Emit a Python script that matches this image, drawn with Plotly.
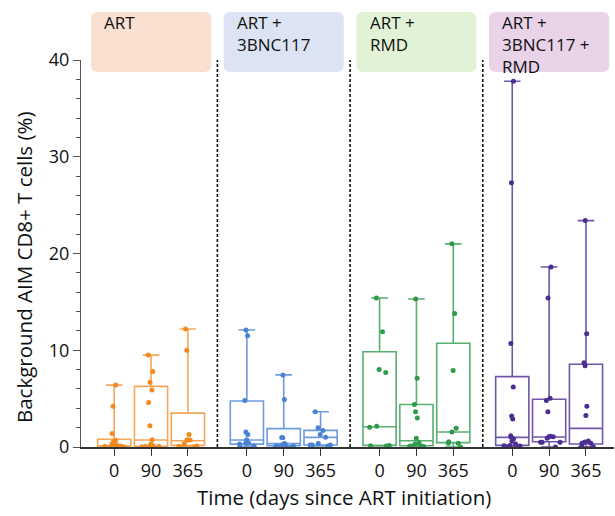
import plotly.graph_objects as go

# ---------------- data ----------------
groups = ["ART", "ART + 3BNC117", "ART + RMD", "ART + 3BNC117 + RMD"]
header_lines = [["ART"], ["ART +", "3BNC117"], ["ART +", "RMD"], ["ART +", "3BNC117 +", "RMD"]]
timepoints = ["0", "90", "365"]

# individual participant values (% AIM+ CD8+ T cells), per group and timepoint
ART_pts = [
    [6.4, 4.2, 1.4, 0.7, 0.55, 0.3, 0.28, 0.25, 0.2, 0.12, 0.1, 0.08, 0.05, 0.03, 0.0, 0.0],
    [9.5, 7.8, 6.7, 5.9, 4.6, 2.2, 0.75, 0.3, 0.1, 0.08, 0.05, 0.05, 0.02, 0.0],
    [12.2, 10.0, 1.3, 0.75, 0.72, 0.7, 0.3, 0.1, 0.08, 0.0],
]
BNC_pts = [
    [12.1, 11.5, 4.8, 1.55, 1.3, 0.75, 0.4, 0.38, 0.3, 0.1, 0.07, 0.05],
    [7.45, 4.9, 0.97, 0.95, 0.35, 0.3, 0.2, 0.15, 0.1, 0.07, 0.05, 0.0],
    [3.65, 2.0, 1.7, 1.3, 1.0, 0.35, 0.2, 0.2, 0.2, 0.1],
]
RMD_pts = [
    [15.4, 11.9, 8.0, 7.7, 2.15, 2.05, 0.15, 0.12, 0.1],
    [15.3, 7.1, 4.4, 3.65, 3.0, 0.9, 0.45, 0.3, 0.1, 0.1, 0.08, 0.05],
    [21.0, 13.8, 7.9, 1.95, 1.55, 0.55, 0.4, 0.38, 0.0],
]
QUAD_pts = [
    [37.8, 27.3, 10.7, 6.2, 3.2, 2.9, 1.15, 1.0, 0.85, 0.6, 0.3, 0.15, 0.12, 0.1, 0.05, 0.0],
    [18.6, 15.4, 5.05, 4.8, 3.65, 1.1, 1.05, 1.05, 0.9, 0.5, 0.5, 0.5, 0.0],
    [23.4, 11.7, 8.7, 8.4, 4.2, 3.25, 0.62, 0.52, 0.4, 0.38, 0.15, 0.03],
]
points = [ART_pts, BNC_pts, RMD_pts, QUAD_pts]

# box statistics as drawn (min-to-max whiskers)
q1_vals = [[0.02, 0.07, 0.17], [0.3, 0.13, 0.2], [0.17, 0.13, 0.45], [0.17, 0.55, 0.31]]
median_vals = [[0.12, 0.72, 0.65], [0.72, 0.35, 1.0], [2.1, 0.65, 1.55], [1.0, 1.03, 1.93]]
q3_vals = [[0.8, 6.27, 3.5], [4.75, 1.9, 1.72], [9.85, 4.4, 10.72], [7.27, 4.93, 8.55]]
min_vals = [[0.0, 0.0, 0.0], [0.05, 0.0, 0.1], [0.1, 0.05, 0.0], [0.0, 0.0, 0.03]]
max_vals = [[6.4, 9.5, 12.2], [12.1, 7.45, 3.65], [15.4, 15.3, 21.0], [37.8, 18.6, 23.4]]

# ---------------- styling ----------------
colors = ["#f28a20", "#4a82d4", "#2e9b4c", "#4d2d92"]
box_line = ["rgba(242,138,32,0.75)", "rgba(74,130,212,0.8)", "rgba(46,155,76,0.8)", "rgba(77,45,146,0.8)"]
header_fill = ["#f9e0d0", "#dce3f3", "#e1f2d6", "#e8d3e9"]
FONT = "Open Sans"
GROUP_STEP = 3.6

fig = go.Figure()
tickvals, ticktext = [], []
for g in range(len(groups)):
    for i, tp in enumerate(timepoints):
        pos = g * GROUP_STEP + i
        tickvals.append(pos)
        ticktext.append(tp)
        fig.add_trace(go.Box(
            x=[pos], q1=[q1_vals[g][i]], median=[median_vals[g][i]], q3=[q3_vals[g][i]],
            lowerfence=[min_vals[g][i]], upperfence=[max_vals[g][i]],
            boxpoints=False, width=0.9, whiskerwidth=0.5,
            line=dict(color=box_line[g], width=1.6), fillcolor="rgba(0,0,0,0)",
            showlegend=False, hoverinfo="skip"))
        fig.add_trace(go.Box(
            x=[pos] * len(points[g][i]), y=points[g][i],
            boxpoints="all", jitter=0.85, pointpos=0, width=0.9,
            line=dict(color="rgba(0,0,0,0)", width=0), fillcolor="rgba(0,0,0,0)",
            marker=dict(color=colors[g], size=5),
            showlegend=False))

shapes = []
annotations = []
# dashed separators between groups
for g in range(1, len(groups)):
    xsep = (g - 1) * GROUP_STEP + 2 + (GROUP_STEP - 2) / 2
    shapes.append(dict(type="line", xref="x", yref="paper", x0=xsep, x1=xsep, y0=0, y1=1,
                       line=dict(color="#111", width=1.6, dash="3px,2px")))

# header boxes with rounded corners
rx, ry = 0.19, 0.018
ytop, ybot = 1.124, 0.969
for g in range(len(groups)):
    c = g * GROUP_STEP + 1
    x0, x1 = c - 1.63, c + 1.63
    path = (f"M {x0+rx},{ybot} L {x1-rx},{ybot} Q {x1},{ybot} {x1},{ybot+ry} "
            f"L {x1},{ytop-ry} Q {x1},{ytop} {x1-rx},{ytop} L {x0+rx},{ytop} "
            f"Q {x0},{ytop} {x0},{ytop-ry} L {x0},{ybot+ry} Q {x0},{ybot} {x0+rx},{ybot} Z")
    shapes.append(dict(type="path", xref="x", yref="paper", path=path,
                       fillcolor=header_fill[g], line=dict(width=0), layer="below"))
    annotations.append(dict(text="<br>".join(header_lines[g]), xref="x", yref="paper",
                            x=x0 + 0.31, y=1.131, xanchor="left", yanchor="top", align="left",
                            showarrow=False, font=dict(family=FONT, size=17, color="#111")))

# axis titles
annotations.append(dict(text="Background AIM CD8+ T cells (%)", xref="paper", yref="paper",
                        x=-0.107, y=0.465, textangle=-90, showarrow=False,
                        xanchor="center", yanchor="middle",
                        font=dict(family=FONT, size=20.5, color="#111")))
annotations.append(dict(text="Time (days since ART initiation)", xref="paper", yref="paper",
                        x=0.493, y=-0.129, showarrow=False, xanchor="center", yanchor="middle",
                        font=dict(family=FONT, size=20.5, color="#111")))

fig.update_layout(
    width=615, height=516,
    margin=dict(l=81, r=1, t=60, b=69),
    paper_bgcolor="white", plot_bgcolor="white",
    boxmode="overlay",
    shapes=shapes, annotations=annotations,
    font=dict(family=FONT, color="#111"),
    xaxis=dict(range=[-0.9, 13.56], tickvals=tickvals, ticktext=ticktext,
               showline=True, linecolor="#333", linewidth=1.5, ticks="outside",
               ticklen=7, tickcolor="#333", tickwidth=1.2, showgrid=False, zeroline=False,
               tickfont=dict(family=FONT, size=18, color="#111")),
    yaxis=dict(range=[0, 40], tickvals=[0, 10, 20, 30, 40],
               showline=True, linecolor="#555", linewidth=1.2, ticks="outside",
               ticklen=7, tickcolor="#555", tickwidth=1.2, showgrid=False, zeroline=False,
               minor=dict(dtick=2, ticks="outside", ticklen=4, tickcolor="#555", tickwidth=1),
               tickfont=dict(family=FONT, size=18, color="#111")),
)

fig.write_html("out.html")
